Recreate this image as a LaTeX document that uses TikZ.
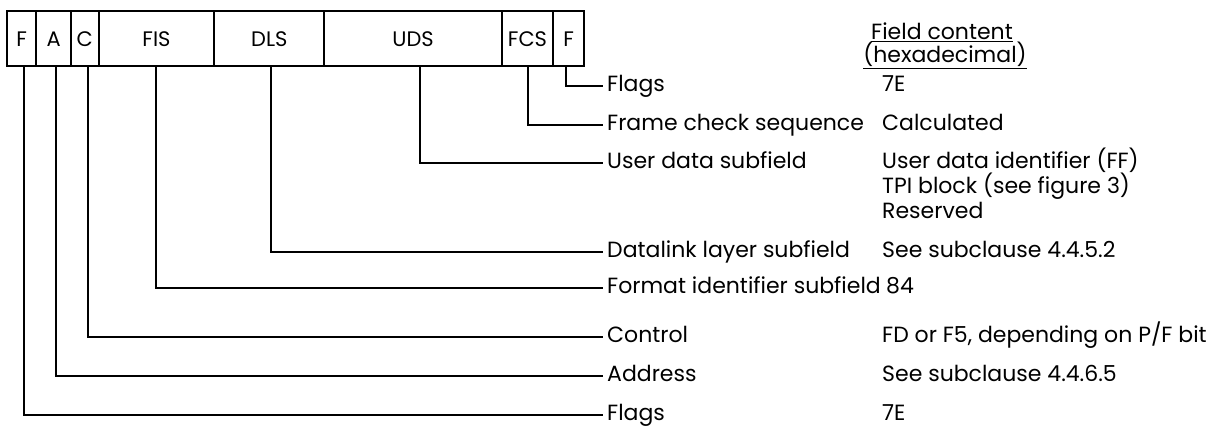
\documentclass[tikz,border=0pt]{standalone}
\usepackage{fontspec}
\setmainfont{Poppins}

\begin{document}
\begin{tikzpicture}[x=1pt,y=-1pt,
  cell/.style={draw, line width=2pt, minimum height=55pt, inner sep=0pt,
    anchor=west, font=\fontsize{21}{25}\selectfont},
  lead/.style={line width=2pt},
  lbl/.style={anchor=west, inner sep=0pt, text height=15.5pt, text depth=4pt,
    font=\fontsize{22}{26}\selectfont},
  hdr/.style={anchor=base, inner sep=0pt, font=\fontsize{22}{26}\selectfont}]
\useasboundingbox (0,0) rectangle (1216,427);

% frame fields
\node[cell, minimum width=29.3pt]  (f1)  at (6,39)     {F};
\node[cell, minimum width=34.7pt]  (a)   at (35.3,39)  {A};
\node[cell, minimum width=27.7pt]  (c)   at (70,39)    {C};
\node[cell, minimum width=115.6pt] (fis) at (97.7,39)  {FIS};
\node[cell, minimum width=110pt]   (dls) at (213.3,39) {DLS};
\node[cell, minimum width=177.4pt] (uds) at (323.3,39) {UDS};
\node[cell, minimum width=51.6pt]  (fcs) at (500.7,39) {FCS};
\node[cell, minimum width=30.7pt]  (f2)  at (552.3,39) {F};

% field names
\node[lbl] (nF2)  at (607,86)  {Flags};
\node[lbl] (nFCS) at (607,125) {Frame check sequence};
\node[lbl] (nUDS) at (607,163) {User data subfield};
\node[lbl] (nDLS) at (607,252) {Datalink layer subfield};
\node[lbl] (nFIS) at (607,288) {Format identifier subfield};
\node[lbl] (nC)   at (607,337) {Control};
\node[lbl] (nA)   at (607,376) {Address};
\node[lbl] (nF1)  at (607,415) {Flags};

% field contents
\node[hdr] (h1) at (942,40) {\underline{Field content}};
\node[hdr] (h2) at (945,63) {\underline{(hexadecimal)}};
\node[lbl] (vF2)  at (882,86)  {7E};
\node[lbl] (vFCS) at (882,125) {Calculated};
\node[lbl] (vU1)  at (882,163) {User data identifier (FF)};
\node[lbl] (vU2)  at (882,188) {TPI block (see figure 3)};
\node[lbl] (vU3)  at (882,213) {Reserved};
\node[lbl] (vDLS) at (882,252) {See subclause 4.4.5.2};
\node[lbl] (vFIS) at (nFIS.east) [xshift=5pt] {84};
\node[lbl] (vC)   at (882,337) {FD or F5, depending on P/F bit};
\node[lbl] (vA)   at (882,376) {See subclause 4.4.6.5};
\node[lbl] (vF1)  at (882,415) {7E};

% leader lines
\draw[lead] ([xshift=-2.7pt]f2.south)  |- ([xshift=-4pt]nF2.west);
\draw[lead] ([xshift=0.8pt]fcs.south)  |- ([xshift=-4pt]nFCS.west);
\draw[lead] ([xshift=7.3pt]uds.south)  |- ([xshift=-4pt]nUDS.west);
\draw[lead] ([xshift=1.7pt]dls.south)  |- ([xshift=-4pt]nDLS.west);
\draw[lead] ([xshift=-0.2pt]fis.south) |- ([xshift=-4pt]nFIS.west);
\draw[lead] ([xshift=2.8pt]c.south)    |- ([xshift=-4pt]nC.west);
\draw[lead] ([xshift=2.6pt]a.south)    |- ([xshift=-4pt]nA.west);
\draw[lead] ([xshift=2.6pt]f1.south)   |- ([xshift=-4pt]nF1.west);
\end{tikzpicture}
\end{document}
